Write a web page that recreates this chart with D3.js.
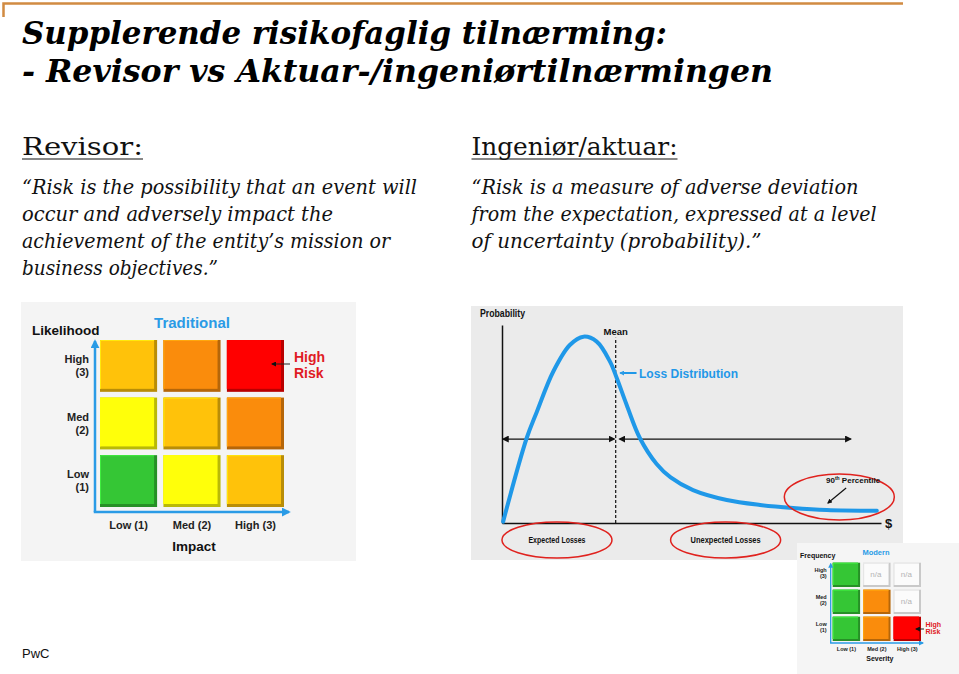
<!DOCTYPE html>
<html>
<head>
<meta charset="utf-8">
<script src="https://d3js.org/d3.v7.min.js"></script>
<style>
body { margin: 0; background: #fff; }
svg { display: block; }
</style>
</head>
<body>
<script>
// ---- data ----
var titleLines = ["Supplerende risikofaglig tilnærming:", "- Revisor vs Aktuar-/ingeniørtilnærmingen"];
var auditorHead = "Revisor:";
var actuaryHead = "Ingeniør/aktuar:";
var auditorQuote = ["“Risk is the possibility that an event will", "occur and adversely impact the", "achievement of the entity’s mission or", "business objectives.”"];
var actuaryQuote = ["“Risk is a measure of adverse deviation", "from the expectation, expressed at a level", "of uncertainty (probability).”"];

var levels = ["Low (1)", "Med (2)", "High (3)"];
var levelWords = ["Low", "Med", "High"];
var levelNums = ["(1)", "(2)", "(3)"];

// risk class per cell: rows = likelihood/frequency low..high, cols = impact/severity low..high
var traditionalRisk = [[1, 2, 3], [2, 3, 4], [3, 4, 5]];
var modernRisk = [[1, 4, 5], [1, 4, 0], [1, 0, 0]]; // 0 = n/a
var riskClasses = [0, 1, 2, 3, 4, 5];
var riskColors = ["#fbfbfb", "#35c635", "#ffff0a", "#ffc20a", "#fa8c0c", "#ff0000"];

// loss distribution (x = loss $, y = probability), both 0..100
var lossX = [0.3, 6.5, 9.2, 13.5, 17.9, 21.5, 25.0, 28.5, 30.3, 32.9, 36.4, 40.8, 44.5, 50.4, 59.3, 68.1, 76.8, 85.7, 98.9];
var lossP = [0.7, 42.8, 56.2, 76.4, 89.9, 94.1, 91.6, 81.5, 73.1, 59.6, 42.8, 29.8, 23.0, 16.6, 11.6, 9.1, 7.6, 6.6, 6.2];
var meanLoss = 30;
var pct90 = 86;
var lossZones = ["Expected Losses", "Unexpected Losses"];
var lossZoneCenters = [14.5, 59];

var width = 959, height = 674;
var svg = d3.select("body").append("svg")
    .attr("width", width)
    .attr("height", height);

var SERIF = "'DejaVu Serif', Georgia, serif";
var SANS = "'Liberation Sans', Arial, sans-serif";
var BLUE = "#2a9be6";

// markers
var defs = svg.append("defs");
function marker(id, color, size) {
  defs.append("marker")
      .attr("id", id)
      .attr("viewBox", "0 0 10 10")
      .attr("refX", 8).attr("refY", 5)
      .attr("markerWidth", size).attr("markerHeight", size)
      .attr("markerUnits", "userSpaceOnUse")
      .attr("orient", "auto-start-reverse")
    .append("path")
      .attr("d", "M0,0L10,5L0,10z")
      .attr("fill", color);
}
marker("blueArrow", BLUE, 9);
marker("blueArrowSm", BLUE, 5);
marker("blackArrow", "#111", 7);
marker("blackArrowSm", "#111", 5);

function txt(g, x, y, s, o) {
  o = o || {};
  var t = g.append("text")
      .attr("x", x).attr("y", y)
      .attr("font-family", o.family || SANS)
      .attr("font-size", o.size || 12)
      .attr("font-weight", o.weight || "normal")
      .attr("font-style", o.style || "normal")
      .attr("fill", o.fill || "#111")
      .attr("text-anchor", o.anchor || "start")
      .text(s);
  if (o.w) t.attr("textLength", o.w).attr("lengthAdjust", "spacingAndGlyphs");
  return t;
}

// ---- header rule ----
svg.append("path")
    .attr("d", "M3.5,17V3.5H903")
    .attr("fill", "none")
    .attr("stroke", "#d18b42")
    .attr("stroke-width", 2.5);

// ---- title ----
var titleW = [645, 751], titleY = [44, 82];
titleLines.forEach(function(s, i) {
  txt(svg, 22, titleY[i], s, {family: SERIF, size: 31, weight: "bold", style: "italic", fill: "#000", w: titleW[i]});
});

// ---- column headings and quotes ----
function heading(x, s, w) {
  txt(svg, x, 155, s, {family: SERIF, size: 25, fill: "#111", w: w});
  svg.append("line")
      .attr("x1", x).attr("x2", x + w)
      .attr("y1", 159).attr("y2", 159)
      .attr("stroke", "#111").attr("stroke-width", 1.2);
}
heading(22, auditorHead, 121);
heading(471.5, actuaryHead, 206);

var auditorW = [395, 311, 368, 196];
var actuaryW = [387, 405, 290];
auditorQuote.forEach(function(s, i) {
  txt(svg, 22, 194 + i * 27, s, {family: SERIF, size: 19.5, style: "italic", w: auditorW[i]});
});
actuaryQuote.forEach(function(s, i) {
  txt(svg, 471.5, 194 + i * 27, s, {family: SERIF, size: 19.5, style: "italic", w: actuaryW[i]});
});

// ---- risk matrix helper ----
var color = d3.scaleOrdinal().domain(riskClasses).range(riskColors);

function drawMatrix(g, risk, o) {
  var x = d3.scaleBand().domain(levels).range(o.xr).paddingInner(0.1);
  var y = d3.scaleBand().domain(levels.slice().reverse()).range(o.yr).paddingInner(0.1);
  var bw = x.bandwidth(), bh = y.bandwidth(), b = o.bevel;

  var cells = [];
  risk.forEach(function(row, r) {
    row.forEach(function(v, c) { cells.push({r: levels[r], c: levels[c], v: v}); });
  });

  var cg = g.selectAll("g.cell").data(cells).enter().append("g")
      .attr("transform", function(d) { return "translate(" + x(d.c) + "," + y(d.r) + ")"; });
  cg.append("rect")
      .attr("width", bw).attr("height", bh)
      .attr("fill", function(d) { return d.v ? d3.color(color(d.v)).darker(0.9) : "#c9c9c9"; });
  cg.append("rect")
      .attr("width", bw - b).attr("height", bh - b)
      .attr("fill", function(d) { return color(d.v); });
  cg.append("path")
      .attr("d", "M0.5," + (bh - b) + "V0.5H" + (bw - b))
      .attr("fill", "none")
      .attr("stroke", function(d) { return d.v ? d3.color(color(d.v)).brighter(0.5) : "#e4e4e4"; })
      .attr("stroke-width", 1);
  cg.filter(function(d) { return !d.v; }).append("text")
      .attr("x", (bw - b) / 2).attr("y", (bh - b) / 2 + o.naSize * 0.35)
      .attr("text-anchor", "middle")
      .attr("font-family", SANS).attr("font-size", o.naSize)
      .attr("fill", "#b4b4b4")
      .text("n/a");

  // axes arrows
  var ax = o.xr[0] - o.gap, ay = o.yr[1] + o.gap;
  g.append("line")
      .attr("x1", ax).attr("y1", ay).attr("x2", ax).attr("y2", o.yr[0] + 1)
      .attr("stroke", BLUE).attr("stroke-width", o.axisW)
      .attr("marker-end", "url(#" + o.arrow + ")");
  g.append("line")
      .attr("x1", ax - o.axisW / 2).attr("y1", ay).attr("x2", o.xr[1] + o.gap).attr("y2", ay)
      .attr("stroke", BLUE).attr("stroke-width", o.axisW)
      .attr("marker-end", "url(#" + o.arrow + ")");

  // row labels
  levels.forEach(function(l, i) {
    var cy = y(l) + bh / 2;
    txt(g, ax - o.labelGap, cy + o.rowDy[0], levelWords[i], {size: o.lab, weight: "bold", anchor: "end", fill: "#222"});
    txt(g, ax - o.labelGap, cy + o.rowDy[1], levelNums[i], {size: o.lab, weight: "bold", anchor: "end", fill: "#222"});
    txt(g, x(l) + bw / 2, o.colY, l, {size: o.lab, weight: "bold", anchor: "middle", fill: "#222"});
  });

  txt(g, o.yTitle[0], o.yTitle[1], o.yName, {size: o.titleSize, weight: "bold", fill: "#111"});
  txt(g, (o.xr[0] + o.xr[1]) / 2 + o.xTitleDx, o.xTitleY, o.xName, {size: o.titleSize, weight: "bold", anchor: "middle", fill: "#111"});
  txt(g, o.head[0], o.head[1], o.headName, {size: o.headSize, weight: "bold", anchor: "middle", fill: BLUE});

  // high risk call-out
  var hx = x(levels[2]) + bw;
  txt(g, hx + o.hrDx, o.hrY[0], "High", {size: o.hrSize, weight: "bold", fill: "#e01b24"});
  txt(g, hx + o.hrDx, o.hrY[1], "Risk", {size: o.hrSize, weight: "bold", fill: "#e01b24"});
  g.append("line")
      .attr("x1", hx + o.hrArrow[0]).attr("x2", hx - o.hrArrow[1])
      .attr("y1", o.hrArrow[2]).attr("y2", o.hrArrow[2])
      .attr("stroke", "#222").attr("stroke-width", 1)
      .attr("marker-end", "url(#blackArrowSm)");
}

// ---- traditional panel ----
var trad = svg.append("g");
trad.append("rect").attr("x", 21).attr("y", 302).attr("width", 335).attr("height", 259).attr("fill", "#f4f4f4");
drawMatrix(trad, traditionalRisk, {
  xr: [100, 284], yr: [340, 507], bevel: 3, gap: 5, axisW: 2.5, arrow: "blueArrow",
  naSize: 10, lab: 11, labelGap: 6, rowDy: [-3, 10], colY: 529,
  yName: "Likelihood", yTitle: [32, 335], xName: "Impact", xTitleY: 551, xTitleDx: 2, titleSize: 13.5,
  headName: "Traditional", head: [192, 328], headSize: 15,
  hrDx: 10, hrY: [362, 378], hrSize: 14, hrArrow: [6, 12, 364]
});

// ---- loss distribution panel ----
var loss = svg.append("g");
loss.append("rect").attr("x", 471).attr("y", 306).attr("width", 432).attr("height", 254).attr("fill", "#ebebeb");

var x = d3.scaleLinear().domain([0, 100]).range([502, 881]);
var y = d3.scaleLinear().domain([0, 100]).range([523, 325]);

loss.append("g").attr("transform", "translate(0,523)")
    .call(d3.axisBottom(x).tickValues([]).tickSizeOuter(0))
    .call(function(g) { g.select(".domain").attr("stroke", "#111").attr("stroke-width", 1.5); });
loss.append("g").attr("transform", "translate(502,0)")
    .call(d3.axisLeft(y).tickValues([]).tickSizeOuter(0))
    .call(function(g) { g.select(".domain").attr("stroke", "#111").attr("stroke-width", 1.5); });

txt(loss, 480, 317, "Probability", {size: 10, weight: "bold", w: 45});
txt(loss, 885, 528, "$", {size: 13, weight: "bold"});

// mean line
loss.append("line")
    .attr("x1", x(meanLoss)).attr("x2", x(meanLoss))
    .attr("y1", y(0)).attr("y2", y(93.5))
    .attr("stroke", "#111").attr("stroke-width", 1.2)
    .attr("stroke-dasharray", "3,2");
txt(loss, x(meanLoss), 335, "Mean", {size: 9.5, weight: "bold", anchor: "middle"});

// expected / unexpected arrows
var arrowY = y(42.4);
loss.append("line")
    .attr("x1", x(0.3)).attr("x2", x(meanLoss) - 1.5)
    .attr("y1", arrowY).attr("y2", arrowY)
    .attr("stroke", "#111").attr("stroke-width", 1.2)
    .attr("marker-start", "url(#blackArrow)").attr("marker-end", "url(#blackArrow)");
loss.append("line")
    .attr("x1", x(meanLoss) + 4).attr("x2", x(92))
    .attr("y1", arrowY).attr("y2", arrowY)
    .attr("stroke", "#111").attr("stroke-width", 1.2)
    .attr("marker-start", "url(#blackArrow)").attr("marker-end", "url(#blackArrow)");

// curve
var lossData = lossX.map(function(v, i) { return {x: v, p: lossP[i]}; });
loss.append("path")
    .datum(lossData)
    .attr("fill", "none")
    .attr("stroke", "#1f98e8")
    .attr("stroke-width", 4)
    .attr("stroke-linecap", "round")
    .attr("d", d3.line().x(function(d) { return x(d.x); }).y(function(d) { return y(d.p); }).curve(d3.curveCatmullRom));

// loss distribution label
loss.append("line")
    .attr("x1", x(35.5)).attr("x2", x(31.2))
    .attr("y1", 373).attr("y2", 373)
    .attr("stroke", "#1f98e8").attr("stroke-width", 2)
    .attr("marker-end", "url(#blueArrowSm)");
txt(loss, 639, 378, "Loss Distribution", {size: 13.5, weight: "bold", fill: "#1f98e8", w: 99});

// zone ellipses
lossZones.forEach(function(s, i) {
  var cx = x(lossZoneCenters[i]);
  loss.append("ellipse")
      .attr("cx", cx).attr("cy", 540).attr("rx", 55).attr("ry", 18)
      .attr("fill", "none").attr("stroke", "#e0221e").attr("stroke-width", 1.5);
  txt(loss, cx, 543, s, {size: 8.5, weight: "bold", anchor: "middle", w: i ? 70 : 57});
});

// 90th percentile
loss.append("ellipse")
    .attr("cx", x(89)).attr("cy", 497).attr("rx", 55).attr("ry", 23)
    .attr("fill", "none").attr("stroke", "#e0221e").attr("stroke-width", 1.5);
var pt = txt(loss, 826, 483, "90", {size: 8, weight: "bold"});
pt.append("tspan").attr("font-size", 5).attr("dy", -3).text("th");
pt.append("tspan").attr("dy", 3).text(" Percentile");
loss.append("line")
    .attr("x1", x(90.8)).attr("y1", 488)
    .attr("x2", x(pct90)).attr("y2", 503)
    .attr("stroke", "#111").attr("stroke-width", 1.2)
    .attr("marker-end", "url(#blackArrowSm)");

// ---- modern inset ----
var modern = svg.append("g");
modern.append("rect").attr("x", 797).attr("y", 543).attr("width", 162).attr("height", 131).attr("fill", "#f5f5f5");
drawMatrix(modern, modernRisk, {
  xr: [832.7, 921], yr: [562.7, 641], bevel: 2, gap: 2, axisW: 1.3, arrow: "blueArrowSm",
  naSize: 8, lab: 5.5, labelGap: 4, rowDy: [-2.5, 3.5], colY: 651,
  yName: "Frequency", yTitle: [800, 558], xName: "Severity", xTitleY: 661, xTitleDx: 3, titleSize: 7,
  headName: "Modern", head: [876, 555], headSize: 7.5,
  hrDx: 4.5, hrY: [626.5, 634], hrSize: 7, hrArrow: [3, 5, 629]
});

// ---- footer ----
txt(svg, 22, 658, "PwC", {size: 13, fill: "#111"});
</script>
</body>
</html>
